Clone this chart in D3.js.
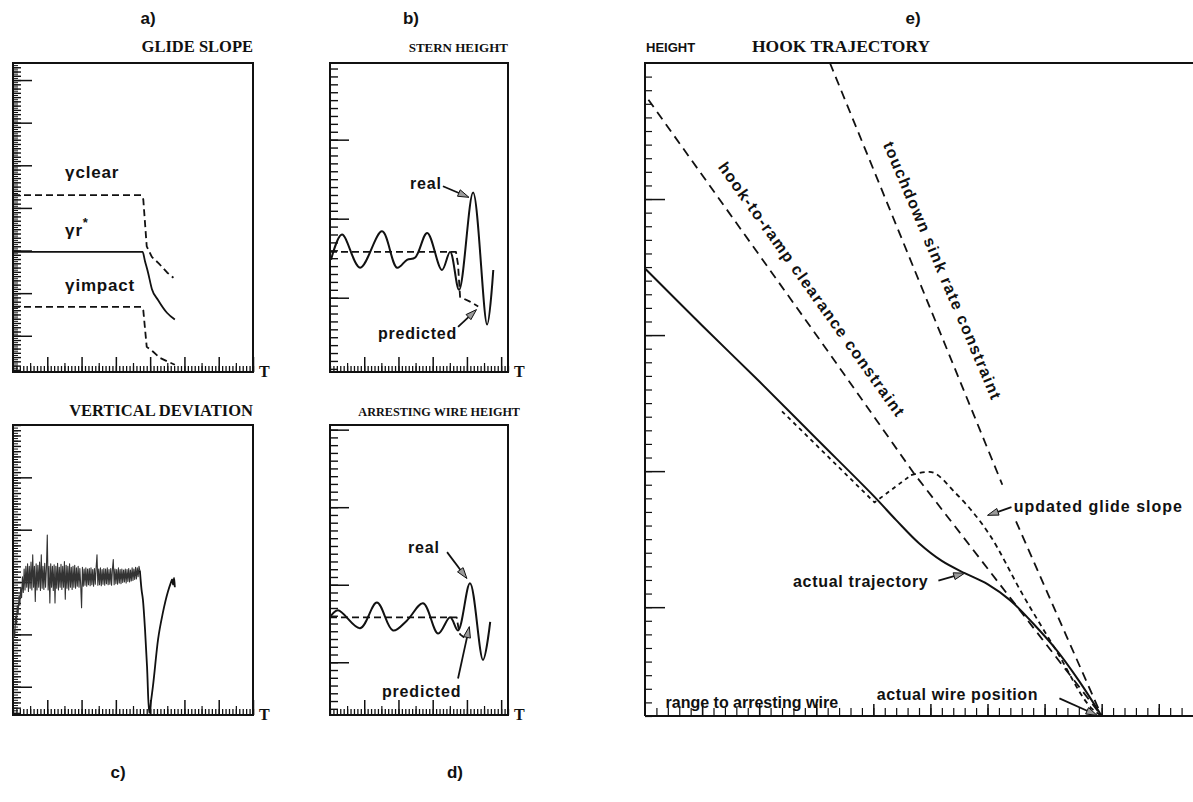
<!DOCTYPE html>
<html>
<head>
<meta charset="utf-8">
<script src="https://cdn.jsdelivr.net/npm/d3@7"></script>
<style>
    body { margin: 0; background: #fff; }
    svg { display: block; }
</style>
</head>
<body>
<div id="main"></div>
<script>
// a) glide slope, [T, value]
const gammaClear = [[0, 3.3], [3.75, 3.3], [3.8, 3.2], [3.9, 2.1], [4.05, 1.85], [4.25, 1.7], [4.5, 1.48], [4.68, 1.36]]
const gammaR = [[0, 1.97], [3.78, 1.97], [3.85, 1.75], [3.94, 1.48], [4.05, 1.1], [4.23, 0.84], [4.49, 0.54], [4.72, 0.38]]
const gammaImpact = [[0, 0.68], [3.75, 0.68], [3.8, 0.6], [3.9, -0.26], [4.08, -0.37], [4.29, -0.52], [4.58, -0.63], [4.72, -0.68]]

// b) stern height
const sternReal = [[0.03, 0.48], [0.35, 0.8], [0.88, 0.38], [1.52, 0.84], [1.96, 0.38], [2.25, 0.48], [2.49, 0.51], [2.84, 0.82], [3.27, 0.35], [3.51, 0.58], [3.77, 0.1], [4.18, 1.33], [4.59, -0.34], [4.77, 0.35]]
const sternPredicted = [[0, 0.58], [3.68, 0.58], [3.74, 0.42], [3.8, 0.01], [4.09, -0.05], [4.33, -0.11]]

// c) vertical deviation: noisy part sampled every devStep in T, then the dip
const devStep = 0.025
const devNoise = [
    0.85, 1.1, 0.95, 1.35, 1.2, 1.55, 1.4, 1.75, 1.55, 1.9,
    1.7, 2.1, 1.8, 2.25, 1.85, 2.3, 1.9, 2.35, 1.82, 2.3,
    1.88, 2.38, 1.85, 2.52, 1.9, 2.3, 1.63, 2.35, 1.85, 2.32,
    1.9, 2.38, 1.84, 2.52, 1.88, 2.3, 1.86, 2.36, 1.9, 2.28,
    2.9, 1.85, 2.3, 1.6, 2.35, 1.9, 2.3, 1.84, 2.33, 1.6,
    2.3, 1.88, 2.36, 1.85, 2.28, 1.9, 2.34, 1.86, 2.3, 1.9,
    2.39, 1.67, 2.32, 1.88, 2.3, 1.85, 2.35, 1.9, 2.28, 1.86,
    2.3, 1.9, 2.32, 1.88, 2.27, 1.92, 2.3, 1.9, 2.26, 1.93,
    1.51, 2.28, 1.92, 2.25, 1.94, 2.27, 1.92, 2.25, 1.95, 2.26,
    1.93, 2.27, 1.95, 2.24, 1.92, 2.26, 1.96, 2.28, 2.52, 1.94,
    2.25, 1.95, 2.27, 1.93, 2.24, 1.96, 2.26, 1.94, 2.25, 1.97,
    2.27, 1.95, 2.24, 1.96, 2.26, 1.94, 2.25, 2.43, 1.95, 2.25,
    1.97, 2.24, 1.96, 2.27, 1.98, 2.24, 1.97, 2.25, 1.99, 2.23,
    2.0, 2.25, 1.98, 2.24, 2.01, 2.26, 2.0, 2.23, 2.02, 2.27,
    2.03, 2.25, 2.05, 2.28, 2.06, 2.27, 2.1, 2.3, 2.22
]
const devDip = [[3.7, 2.22], [3.75, 1.85], [3.79, 1.66], [3.85, 1.1], [3.91, 0.38], [3.97, -0.5], [4.02, -0.3], [4.08, 0.0], [4.23, 0.9], [4.37, 1.41], [4.52, 1.82], [4.6, 1.98], [4.64, 2.05], [4.67, 1.95], [4.7, 2.08], [4.72, 1.9]]

// d) arresting wire height
const wireReal = [[0, 0.58], [0.23, 0.67], [0.88, 0.44], [1.37, 0.77], [1.84, 0.41], [2.25, 0.54], [2.72, 0.76], [3.16, 0.37], [3.51, 0.58], [3.74, 0.41], [4.09, 1.02], [4.47, 0.03], [4.68, 0.52]]
const wirePredicted = [[0, 0.58], [3.7, 0.58], [3.75, 0.45], [3.8, 0.36], [3.92, 0.32]]

// e) hook trajectory, [range, height]
const hookTrajectory = [[0, 24.9], [5, 20.7], [10, 16.6], [15, 12.4], [20, 8.2], [22, 6.4], [24, 4.7], [26, 3.4], [28, 2.5], [30, 1.7], [32, 0.5], [34, -1.2], [36, -3.1], [38, -5.4], [40, -8]]
const glideOld = [[12, 14.4], [20.1, 7.7], [23.3, 9.7]]
const glideUpdated = [[23.3, 9.7], [24.9, 9.95], [27.3, 8.3], [30.2, 5.3], [33.1, 0.9], [36.1, -3.3], [39.2, -7.5], [40, -8]]
const clearanceConstraint = [[0.3, 37.3], [16.2, 18.6], [23.5, 9.9], [40, -8]]
const sinkRateUpper = [[16.2, 40], [31.3, 9.0]]
const sinkRateLower = [[32.5, 6.3], [40, -8]]

const ctx = {
    w: 1193,
    h: 802,
    sans: '"Liberation Sans", Arial, sans-serif',
    serif: '"Liberation Serif", "Times New Roman", serif',
    ink: '#111'
}

function createViz() {
    let svg = d3.select('#main').append('svg')
        .attr('width', ctx.w)
        .attr('height', ctx.h)

    drawGlideSlope(svg)
    drawStern(svg)
    drawDeviation(svg)
    drawWire(svg)
    drawHook(svg)

    // panel letters
    let letters = [['a)', 148, 24], ['b)', 411, 24], ['c)', 118, 778], ['d)', 455, 778], ['e)', 913, 24]]
    svg.selectAll('text.letter')
        .data(letters)
        .join('text')
        .attr('class', 'letter')
        .attr('x', d => d[1])
        .attr('y', d => d[2])
        .attr('text-anchor', 'middle')
        .attr('font-family', ctx.sans)
        .attr('font-weight', 'bold')
        .attr('font-size', 17)
        .attr('fill', ctx.ink)
        .text(d => d[0])
}

// a frame with scales; box in pixels; title = [text, size, right end, baseline gap]
function makePanel(svg, box, xDom, yDom, title, withBorder) {
    let g = svg.append('g')
    let x = d3.scaleLinear().domain(xDom).range([box.left, box.right])
    let y = d3.scaleLinear().domain(yDom).range([box.bottom, box.top])
    let p = { g: g, x: x, y: y, box: box }
    if (withBorder) {
        g.append('rect')
            .attr('x', box.left).attr('y', box.top)
            .attr('width', box.right - box.left).attr('height', box.bottom - box.top)
            .attr('fill', 'none').attr('stroke', ctx.ink).attr('stroke-width', 2)
        g.append('text')
            .attr('x', box.right + 6).attr('y', box.bottom + 5)
            .attr('font-family', ctx.serif).attr('font-weight', 'bold').attr('font-size', 16)
            .attr('fill', ctx.ink)
            .text('T')
    }
    if (title) {
        g.append('text')
            .attr('x', title[2]).attr('y', box.top - title[3])
            .attr('text-anchor', 'end')
            .attr('font-family', ctx.serif).attr('font-weight', 'bold').attr('font-size', title[1])
            .attr('fill', ctx.ink)
            .text(title[0])
    }
    return p
}

function steps(lo, hi, step) {
    let n = Math.round((hi - lo) / step)
    return d3.range(n + 1).map(i => +(lo + i * step).toFixed(4))
}

function addTicks(p, axis, values, len, width) {
    let g = p.g.append('g')
    if (axis == 'y') {
        g.attr('transform', `translate(${p.box.left},0)`)
            .call(d3.axisLeft(p.y).tickValues(values).tickSize(-len).tickFormat(''))
    } else {
        g.attr('transform', `translate(0,${p.box.bottom})`)
            .call(d3.axisBottom(p.x).tickValues(values).tickSize(-len).tickFormat(''))
    }
    g.select('.domain').remove()
    g.selectAll('line').attr('stroke', ctx.ink).attr('stroke-width', width || 1.2)
}

// dense "barcode" ticks used by the four small panels
function smallPanelTicks(p, yLo, yHi, yMinor, yMajors, xHi) {
    if (yMinor < 0.1) addTicks(p, 'y', steps(yLo, yHi, yMinor), 5, 1)
    addTicks(p, 'y', steps(yLo, yHi, 0.1), 8, 1.4)
    addTicks(p, 'y', yMajors, 19, 1.5)
    addTicks(p, 'x', steps(0, xHi, 0.1), 6, 1.3)
    addTicks(p, 'x', steps(0.5, Math.floor(xHi) - 0.5, 1), 9)
    addTicks(p, 'x', steps(1, Math.floor(xHi), 1), 15, 1.5)
}

function addLine(p, data, dash, curve, width, color) {
    let line = d3.line()
        .x(d => p.x(d[0]))
        .y(d => p.y(d[1]))
        .curve(curve || d3.curveLinear)
    p.g.append('path')
        .datum(data)
        .attr('fill', 'none')
        .attr('stroke', color || ctx.ink)
        .attr('stroke-width', width || 1.8)
        .attr('stroke-dasharray', dash)
        .attr('stroke-linejoin', 'round')
        .attr('d', line)
}

function addLabel(p, txt, u, v, size, spacing) {
    return p.g.append('text')
        .attr('x', p.x(u)).attr('y', p.y(v))
        .attr('font-family', ctx.sans).attr('font-weight', 'bold')
        .attr('font-size', size)
        .attr('letter-spacing', spacing)
        .attr('fill', ctx.ink)
        .text(txt)
}

// annotation arrow with a grey head at the end
function addArrow(p, from, to) {
    let x1 = p.x(from[0]), y1 = p.y(from[1])
    let x2 = p.x(to[0]), y2 = p.y(to[1])
    let a = Math.atan2(y2 - y1, x2 - x1)
    let hl = 11, hw = 3.5
    let bx = x2 - hl * Math.cos(a), by = y2 - hl * Math.sin(a)
    p.g.append('line')
        .attr('x1', x1).attr('y1', y1).attr('x2', bx).attr('y2', by)
        .attr('stroke', ctx.ink).attr('stroke-width', 1.8)
    let pts = [[x2, y2],
        [bx + hw * Math.sin(a), by - hw * Math.cos(a)],
        [bx - hw * Math.sin(a), by + hw * Math.cos(a)]]
    p.g.append('polygon')
        .attr('points', pts.map(d => d.join(',')).join(' '))
        .attr('fill', '#9a9a9a').attr('stroke', ctx.ink).attr('stroke-width', 1)
}

function drawGlideSlope(svg) {
    let p = makePanel(svg, { left: 13, right: 253, top: 63, bottom: 372 }, [0, 7], [-0.85, 6.4], ['GLIDE SLOPE', 16.5, 253, 11], true)
    smallPanelTicks(p, -0.8, 6.35, 0.05, steps(0, 6, 1), 7)

    addLine(p, gammaClear, '7,4')
    addLine(p, gammaR, null, d3.curveMonotoneX)
    addLine(p, gammaImpact, '7,4')

    let lab = [['clear', 1.52, 3.7, false], ['r', 1.52, 2.34, true], ['impact', 1.52, 1.05, false]]
    lab.forEach(d => {
        let t = addLabel(p, 'γ', d[1], d[2], 17, 0.8)
        t.append('tspan').text(d[0])
        if (d[3]) t.append('tspan').attr('dy', -9).attr('font-size', 13).text('*')
    })
}

function drawStern(svg) {
    let p = makePanel(svg, { left: 330, right: 508, top: 63, bottom: 372 }, [0, 5.2], [-0.94, 2.97], ['STERN HEIGHT', 13, 508, 11], true)
    smallPanelTicks(p, -0.9, 2.9, 0.1, steps(0, 2, 1), 5.2)

    addLine(p, sternPredicted, '7,4')
    addLine(p, sternReal, null, d3.curveCatmullRom.alpha(0.5), 2)

    addLabel(p, 'real', 2.34, 1.37, 16, 0.8)
    addArrow(p, [3.3, 1.41], [4.06, 1.27])
    addLabel(p, 'predicted', 1.4, -0.52, 16, 0.8)
    addArrow(p, [3.74, -0.37], [4.28, -0.15])
}

function drawDeviation(svg) {
    let p = makePanel(svg, { left: 13, right: 253, top: 425, bottom: 715 }, [0, 7], [-0.54, 5.0], ['VERTICAL DEVIATION', 16.5, 253, 9], true)
    smallPanelTicks(p, -0.5, 4.95, 0.05, steps(0, 4, 1), 7)

    let dev = devNoise.map((v, i) => [i * devStep, v])
    addLine(p, dev, null, d3.curveLinear, 1.1, '#333')
    addLine(p, devDip, null, d3.curveMonotoneX, 1.8)
}

function drawWire(svg) {
    let p = makePanel(svg, { left: 330, right: 508, top: 425, bottom: 715 }, [0, 5.2], [-0.68, 3.06], ['ARRESTING WIRE HEIGHT', 12.2, 520, 9], true)
    smallPanelTicks(p, -0.6, 3, 0.1, steps(0, 3, 1), 5.2)

    addLine(p, wirePredicted, '7,4')
    addLine(p, wireReal, null, d3.curveCatmullRom.alpha(0.5), 2)

    addLabel(p, 'real', 2.28, 1.41, 16, 0.8)
    addArrow(p, [3.42, 1.42], [4.0, 1.08])
    addLabel(p, 'predicted', 1.52, -0.45, 16, 0.8)
    addArrow(p, [3.74, -0.21], [4.07, 0.46])
}

function drawHook(svg) {
    let box = { left: 645, right: 1193, top: 63, bottom: 716 }
    let p = makePanel(svg, box, [0, 48], [-8, 40], null, false)
    // top rule and the two axes
    p.g.append('path')
        .attr('d', `M${box.left},${box.bottom}V${box.top}H${box.right}M${box.left},${box.bottom}H${box.right}`)
        .attr('fill', 'none').attr('stroke', ctx.ink).attr('stroke-width', 2)
    addTicks(p, 'y', steps(-8, 39, 1), 7)
    addTicks(p, 'y', steps(0, 30, 10), 20, 1.5)
    addTicks(p, 'x', steps(1, 47, 1), 8)
    addTicks(p, 'x', steps(5, 45, 5), 12, 1.5)

    p.g.append('text')
        .attr('x', 646).attr('y', box.top - 11)
        .attr('font-family', ctx.sans).attr('font-weight', 'bold').attr('font-size', 13)
        .attr('fill', ctx.ink)
        .text('HEIGHT')
    p.g.append('text')
        .attr('x', 841).attr('y', box.top - 11)
        .attr('text-anchor', 'middle')
        .attr('font-family', ctx.serif).attr('font-weight', 'bold').attr('font-size', 17.5)
        .attr('fill', ctx.ink)
        .text('HOOK TRAJECTORY')

    addLine(p, clearanceConstraint, '9,6')
    addLine(p, sinkRateUpper, '9,6')
    addLine(p, sinkRateLower, '9,6')
    addLine(p, glideOld, '4,4')
    addLine(p, glideUpdated, '5,4', d3.curveMonotoneX)
    addLine(p, hookTrajectory, null, d3.curveCatmullRom.alpha(0.5), 2)

    addLabel(p, 'hook-to-ramp  clearance  constraint', 0, 0, 16, 1.4)
        .attr('x', null).attr('y', null).attr('dy', '0.35em')
        .attr('transform', `translate(${p.x(6.74)},${p.y(32.6)}) rotate(54.5)`)
    addLabel(p, 'touchdown  sink  rate  constraint', 0, 0, 16, 1.4)
        .attr('x', null).attr('y', null).attr('dy', '0.35em')
        .attr('transform', `translate(${p.x(21.28)},${p.y(34.17)}) rotate(67)`)

    addLabel(p, 'updated glide slope', 32.3, 7.0, 16, 1)
    addArrow(p, [32.1, 7.35], [30.0, 6.75])
    addLabel(p, 'actual  trajectory', 12.96, 1.45, 16, 0.7)
    addArrow(p, [25.7, 1.95], [28.0, 2.5])
    addLabel(p, 'actual  wire  position', 20.3, -6.8, 16, 0.6)
    addArrow(p, [36.3, -6.7], [39.6, -7.95])
    addLabel(p, 'range  to  arresting  wire', 1.8, -7.4, 16, 0)
}

createViz()
</script>
</body>
</html>
